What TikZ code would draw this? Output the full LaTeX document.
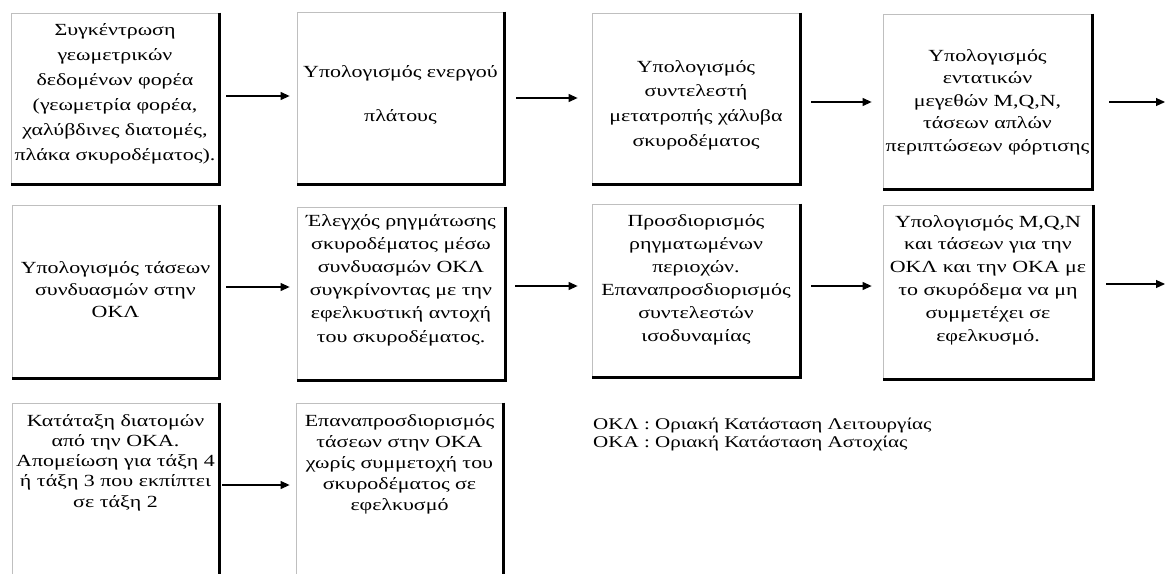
\documentclass[tikz,border=0pt]{standalone}
\usepackage{fontspec}
\setmainfont{Liberation Serif}[FakeStretch=1.29]
\usetikzlibrary{arrows.meta,calc}
\begin{document}
\begin{tikzpicture}[x=1pt,y=-1pt,
  box/.style={draw=black!25, line width=0.8pt, inner sep=0pt, minimum width=#1},
  box/.default=208pt,
  txt/.style={align=center, inner sep=0pt, font=\fontsize{17}{#1}\selectfont},
  txt/.default=23pt,
  shade/.style={line width=2.6pt, black},
  arr/.style={-{Triangle[length=9pt,width=8pt]}, line width=1.1pt},
]
\useasboundingbox (0,0) rectangle (1166,573);
\clip (0,0) rectangle (1166,573);
\fill[white] (0,0) rectangle (1166,573);
% row 1
\node[box, minimum height=171pt] (a1) at (115,98.5) {};
\node[box=207pt, minimum height=172pt] (a2) at (400.5,98) {};
\node[box, minimum height=171pt] (a3) at (696,98.5) {};
\node[box=209pt, minimum height=175pt] (a4) at (987.5,101.5) {};
% row 2
\node[box=207pt, minimum height=173pt] (b1) at (115.5,291.5) {};
\node[box, minimum height=173pt] (b2) at (401,293.5) {};
\node[box, minimum height=173pt] (b3) at (696,290.5) {};
\node[box=210pt, minimum height=174pt] (b4) at (988,292) {};
% row 3
\node[box=207pt, minimum height=200pt] (c1) at (115.5,503) {};
\node[box=207pt, minimum height=200pt] (c2) at (399.5,503) {};
\foreach \n in {a1,a2,a3,a4,b1,b2,b3,b4,c1,c2}
  \draw[shade] (\n.north east) -- (\n.south east) -- (\n.south west);
% texts
\node[txt=25pt] (ta1) at (115,93.5) {Συγκέντρωση\\γεωμετρικών\\δεδομένων φορέα\\(γεωμετρία φορέα,\\χαλύβδινες διατομές,\\πλάκα σκυροδέματος).};
\node[txt=44pt] (ta2) at (400.5,95) {Υπολογισμός ενεργού\\πλάτους};
\node[txt=24.7pt] (ta3) at (696,105) {Υπολογισμός\\συντελεστή\\μετατροπής χάλυβα\\σκυροδέματος};
\node[txt=22.5pt] (ta4) at (987.5,102) {Υπολογισμός\\εντατικών\\μεγεθών M,Q,N,\\τάσεων απλών\\περιπτώσεων φόρτισης};
\node[txt=22pt] (tb1) at (115.5,290) {Υπολογισμός τάσεων\\συνδυασμών στην\\ΟΚΛ};
\node[txt=23.2pt] (tb2) at (401,280) {Έλεγχός ρηγμάτωσης\\σκυροδέματος μέσω\\συνδυασμών ΟΚΛ\\συγκρίνοντας με την\\εφελκυστική αντοχή\\του σκυροδέματος.};
\node[txt=23pt] (tb3) at (696,279.5) {Προσδιορισμός\\ρηγματωμένων\\περιοχών.\\Επαναπροσδιορισμός\\συντελεστών\\ισοδυναμίας};
\node[txt=22.8pt] (tb4) at (988,280) {Υπολογισμός M,Q,N\\και τάσεων για την\\ΟΚΛ και την ΟΚΑ με\\το σκυρόδεμα να μη\\συμμετέχει σε\\εφελκυσμό.};
\node[txt=20.3pt] (tc1) at (115.5,462.5) {Κατάταξη διατομών\\από την ΟΚΑ.\\Απομείωση για τάξη 4\\ή τάξη 3 που εκπίπτει\\σε τάξη 2};
\node[txt=21pt] (tc2) at (399.5,464) {Επαναπροσδιορισμός\\τάσεων στην ΟΚΑ\\χωρίς συμμετοχή του\\σκυροδέματος σε\\εφελκυσμό};
% legend
\node[align=left, anchor=west, inner sep=0pt, font=\fontsize{16.3}{18}\selectfont] (leg) at (593,434) {ΟΚΛ : Οριακή Κατάσταση Λειτουργίας\\ΟΚΑ : Οριακή Κατάσταση Αστοχίας};
% connectors
\coordinate (e1) at (1175,102);
\coordinate (e2) at (1175,284);
\draw[arr, shorten <=7pt, shorten >=7pt] (a1.east |- 0,96) -- (a2.west |- 0,96);
\draw[arr, shorten <=12pt, shorten >=14pt] (a2.east |- 0,98) -- (a3.west |- 0,98);
\draw[arr, shorten <=11pt, shorten >=11pt] (a3.east |- 0,102) -- (a4.west |- 0,102);
\draw[arr, shorten <=17pt, shorten >=10pt] (a4.east |- e1) -- (e1);
\draw[arr, shorten <=7pt, shorten >=7pt] (b1.east |- 0,287) -- (b2.west |- 0,287);
\draw[arr, shorten <=10pt, shorten >=14pt] (b2.east |- 0,286) -- (b3.west |- 0,286);
\draw[arr, shorten <=11pt, shorten >=11pt] (b3.east |- 0,286) -- (b4.west |- 0,286);
\draw[arr, shorten <=13pt, shorten >=10pt] (b4.east |- e2) -- (e2);
\draw[arr, shorten <=3pt, shorten >=6pt] (c1.east |- 0,485) -- (c2.west |- 0,485);
\end{tikzpicture}
\end{document}
